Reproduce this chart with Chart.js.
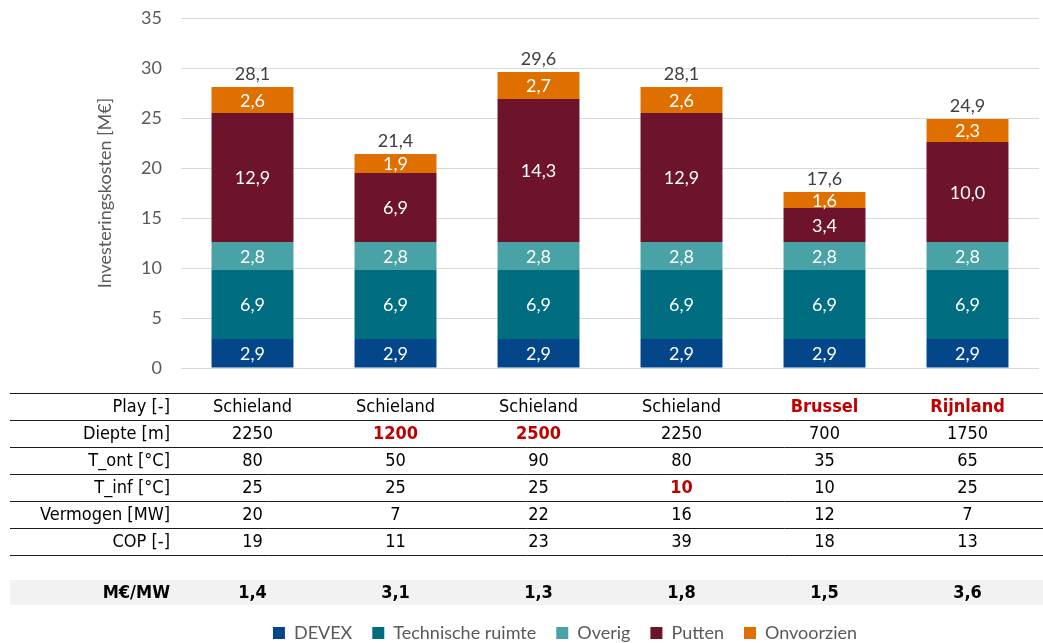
<!DOCTYPE html>
<html>
<head>
<meta charset="utf-8">
<script src="https://cdn.jsdelivr.net/npm/chart.js@4"></script>
<style>
  html, body { margin: 0; padding: 0; background: #ffffff; }
  #wrap { width: 1043px; height: 643px; position: relative; }
</style>
</head>
<body>
<div id="wrap"><canvas id="c" width="1043" height="643"></canvas></div>
<script>
// Categories (play per scenario)
const categories = ['Schieland', 'Schieland', 'Schieland', 'Schieland', 'Brussel', 'Rijnland'];

// Cost components [M€]
const devex = [2.9, 2.9, 2.9, 2.9, 2.9, 2.9];
const technischeRuimte = [6.9, 6.9, 6.9, 6.9, 6.9, 6.9];
const overig = [2.8, 2.8, 2.8, 2.8, 2.8, 2.8];
const putten = [12.9, 6.9, 14.3, 12.9, 3.4, 10.0];
const onvoorzien = [2.6, 1.9, 2.7, 2.6, 1.6, 2.3];

// Y axis ticks
const yTicks = [0, 5, 10, 15, 20, 25, 30, 35];

// Data table rows
const rowLabels = ['Play [-]', 'Diepte [m]', 'T_ont [°C]', 'T_inf [°C]', 'Vermogen [MW]', 'COP [-]'];
const diepte = [2250, 1200, 2500, 2250, 700, 1750];
const tOnt = [80, 50, 90, 80, 35, 65];
const tInf = [25, 25, 25, 10, 10, 25];
const vermogen = [20, 7, 22, 16, 12, 7];
const cop = [19, 11, 23, 39, 18, 13];
const kostenLabel = 'M€/MW';
const kostenPerMW = [1.4, 3.1, 1.3, 1.8, 1.5, 3.6];

// Cells that differ from the reference case (row index -> column indices)
const changedCells = { 0: [4, 5], 1: [1, 2], 3: [3] };

const CHART_FONT = "Lato, 'Open Sans', sans-serif";
const TABLE_FONT = "'DejaVu Sans Condensed', 'DejaVu Sans', sans-serif";
const fmt = v => v.toFixed(1).replace('.', ',');

const tableRows = [categories, diepte, tOnt, tInf, vermogen, cop];

const labelPlugin = {
  id: 'stackLabels',
  afterDatasetsDraw(chart) {
    const ctx = chart.ctx;
    ctx.save();
    ctx.font = '18px ' + CHART_FONT;
    ctx.textAlign = 'center';
    ctx.textBaseline = 'middle';
    chart.data.datasets.forEach((ds, di) => {
      const meta = chart.getDatasetMeta(di);
      meta.data.forEach((el, i) => {
        ctx.fillStyle = '#ffffff';
        ctx.fillText(fmt(ds.data[i]), el.x, (el.y + el.base) / 2 + 1);
      });
    });
    // totals above each stack
    const last = chart.getDatasetMeta(chart.data.datasets.length - 1);
    ctx.fillStyle = '#404040';
    last.data.forEach((el, i) => {
      const total = chart.data.datasets.reduce((s, ds) => s + ds.data[i], 0);
      ctx.fillText(fmt(total), el.x, el.y - 13);
    });
    ctx.restore();
  }
};

const tablePlugin = {
  id: 'dataTable',
  afterDraw(chart) {
    const ctx = chart.ctx;
    const xs = chart.scales.x;
    const top = chart.chartArea.bottom + 25;
    const rowH = 27;
    const left = 10, right = chart.width;
    const labelX = 170;
    ctx.save();
    // horizontal rules
    ctx.strokeStyle = '#1a1a1a';
    ctx.lineWidth = 1;
    for (let r = 0; r <= tableRows.length; r++) {
      const y = Math.round(top + r * rowH) + 0.5;
      ctx.beginPath();
      ctx.moveTo(left, y);
      ctx.lineTo(right, y);
      ctx.stroke();
    }
    ctx.textBaseline = 'middle';
    tableRows.forEach((row, r) => {
      const cy = top + r * rowH + rowH / 2 + 1;
      ctx.font = '18px ' + TABLE_FONT;
      ctx.fillStyle = '#000000';
      ctx.textAlign = 'right';
      ctx.fillText(rowLabels[r], labelX, cy);
      ctx.textAlign = 'center';
      row.forEach((v, i) => {
        const hi = (changedCells[r] || []).includes(i);
        ctx.font = (hi ? 'bold ' : '') + '18px ' + TABLE_FONT;
        ctx.fillStyle = hi ? '#c00000' : '#000000';
        ctx.fillText(String(v), xs.getPixelForValue(i), cy);
      });
    });
    // cost per MW band
    const bandTop = top + tableRows.length * rowH + 25;
    ctx.fillStyle = '#f2f2f2';
    ctx.fillRect(left, bandTop, right - left, 25);
    ctx.fillStyle = '#000000';
    ctx.font = 'bold 18px ' + TABLE_FONT;
    ctx.textAlign = 'right';
    ctx.fillText(kostenLabel, labelX, bandTop + 13);
    ctx.textAlign = 'center';
    kostenPerMW.forEach((v, i) => {
      ctx.fillText(fmt(v), xs.getPixelForValue(i), bandTop + 13);
    });
    ctx.restore();
  }
};

new Chart(document.getElementById('c'), {
  type: 'bar',
  data: {
    labels: categories,
    datasets: [
      { label: 'DEVEX', data: devex, backgroundColor: '#04468a' },
      { label: 'Technische ruimte', data: technischeRuimte, backgroundColor: '#006e80' },
      { label: 'Overig', data: overig, backgroundColor: '#48a2a6' },
      { label: 'Putten', data: putten, backgroundColor: '#6e132c' },
      { label: 'Onvoorzien', data: onvoorzien, backgroundColor: '#df7000' }
    ]
  },
  options: {
    responsive: false,
    animation: false,
    devicePixelRatio: 1,
    layout: { padding: { left: 91, right: 4, top: 18, bottom: -9 } },
    datasets: { bar: { categoryPercentage: 0.573, barPercentage: 1, borderWidth: 0 } },
    scales: {
      x: {
        stacked: true,
        grid: { display: false },
        border: { display: false },
        ticks: { display: false },
        afterFit: s => { s.height = 236; }
      },
      y: {
        stacked: true,
        min: 0,
        max: 35,
        afterBuildTicks: s => { s.ticks = yTicks.map(v => ({ value: v })); },
        afterFit: s => { s.width = 90; s.paddingTop = 0; s.paddingBottom = 0; },
        grid: { color: '#d9d9d9', lineWidth: 1, drawTicks: false },
        border: { display: false },
        ticks: { color: '#595959', padding: 19, font: { family: CHART_FONT, size: 18 } },
        title: {
          display: true,
          text: 'Investeringskosten [M€]',
          color: '#595959',
          font: { family: CHART_FONT, size: 18 },
          padding: { top: 3, bottom: 0 }
        }
      }
    },
    plugins: {
      legend: {
        position: 'bottom',
        labels: {
          boxWidth: 12,
          boxHeight: 12,
          padding: 20,
          color: '#595959',
          font: { family: CHART_FONT, size: 18 }
        }
      },
      tooltip: { enabled: false }
    }
  },
  plugins: [labelPlugin, tablePlugin]
});
</script>
</body>
</html>
